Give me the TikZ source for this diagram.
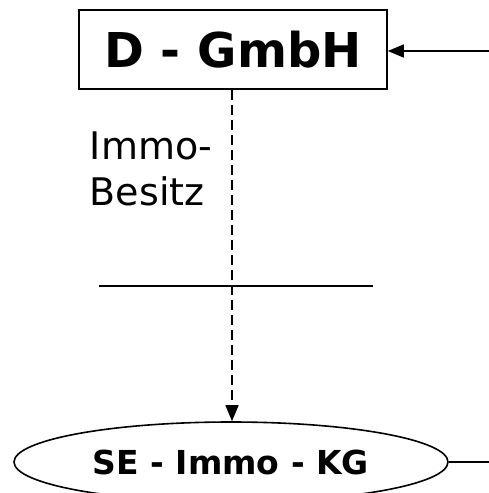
\documentclass[tikz,border=0pt]{standalone}
\usepackage{fontspec}
\setmainfont{DejaVu Sans}
\usepackage{tikz}
\usetikzlibrary{arrows.meta}
\usetikzlibrary{shapes.geometric}
\tikzset{
  firma/.style={draw,line width=1.6pt,rectangle,minimum width=308pt,minimum height=79pt,inner sep=0pt,font=\fontsize{48}{56}\selectfont\bfseries},
  kg/.style={draw,line width=1.6pt,ellipse,minimum width=434pt,minimum height=80pt,inner sep=0pt,font=\fontsize{33}{38}\selectfont\bfseries},
  besitz/.style={dash pattern=on 10pt off 5pt,line width=1.6pt}
}
\begin{document}
\begin{tikzpicture}[x=1pt,y=-1pt,line width=1.6pt,>={Triangle[length=16pt,width=13pt]}]
        \useasboundingbox (0,0) rectangle (488,493);
        \node[firma] (gmbh) at (233,49.5) {D - GmbH};
        \node[kg] (sekg) at (231,462) {SE - Immo - KG};
        \node[anchor=north west,align=left,inner sep=0pt,font=\fontsize{38}{46}\selectfont] (immo) at (89,131) {Immo-\\Besitz};
        \coordinate (rechtsoben) at (490,51);
        \coordinate (rechtsunten) at (490,460);
        \coordinate (linie1) at (99,286);
        \coordinate (linie2) at (373,286);
        \draw[->] (rechtsoben) -- (gmbh.east |- rechtsoben);
        \draw[->,besitz] (gmbh.south -| 232,0) -- (sekg.north -| 232,0);
        \draw (linie1) -- (linie2);
        \draw (sekg.east) -- (sekg.east -| rechtsunten);
\end{tikzpicture}
\end{document}
